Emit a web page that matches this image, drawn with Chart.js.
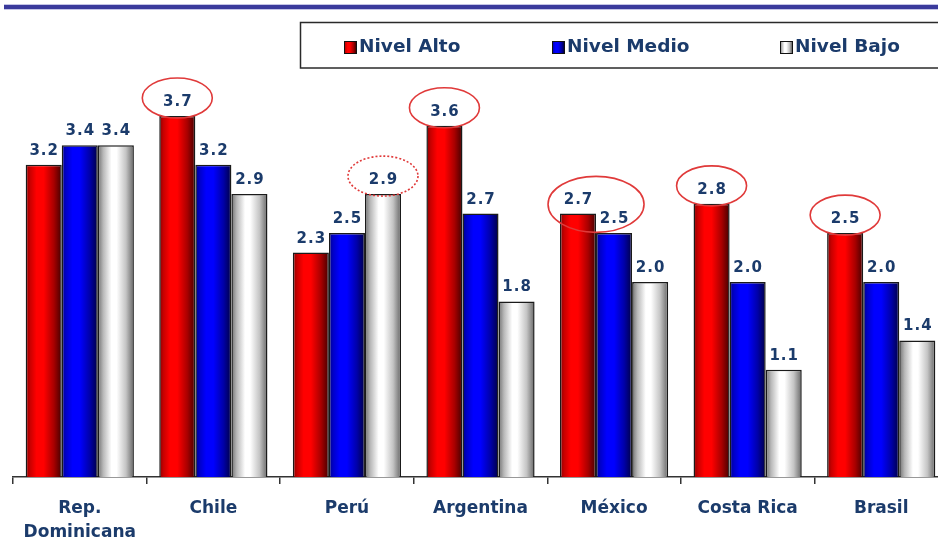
<!DOCTYPE html>
<html>
<head>
<meta charset="utf-8">
<script src="https://cdn.jsdelivr.net/npm/chart.js"></script>
<style>
  html, body { margin: 0; padding: 0; background: #fff; overflow: hidden; }
  #wrap { position: relative; width: 948px; height: 540px; }
</style>
</head>
<body>
<div id="wrap"><canvas id="nivelesChart"></canvas></div>
<script>
// Datos por país
const paises = [['Rep.', 'Dominicana'], 'Chile', 'Perú', 'Argentina', 'México', 'Costa Rica', 'Brasil'];
const series = ['Nivel Alto', 'Nivel Medio', 'Nivel Bajo'];
const nivelAlto = [3.2, 3.7, 2.3, 3.6, 2.7, 2.8, 2.5];
const nivelMedio = [3.4, 3.2, 2.5, 2.7, 2.5, 2.0, 2.0];
const nivelBajo = [3.4, 2.9, 2.9, 1.8, 2.0, 1.1, 1.4];
// valores resaltados con un óvalo: [serie, país]
const destacados = [[0, 1], [2, 2], [0, 3], [0, 4], [0, 5], [0, 6]];

const CAT_PCT = 0.81;
const AZUL_TEXTO = '#1b3b6b';

// degradados tipo cilindro para cada serie
const degradados = [
  [[0, '#8a0000'], [0.12, '#c80000'], [0.3, '#ff0000'], [0.5, '#ff0000'], [0.78, '#a80000'], [1, '#450000']],
  [[0, '#00008a'], [0.12, '#0000c8'], [0.3, '#0000ff'], [0.5, '#0000ff'], [0.78, '#0000a8'], [1, '#000045']],
  [[0, '#707070'], [0.15, '#b8b8b8'], [0.38, '#ffffff'], [0.52, '#ffffff'], [0.78, '#c4c4c4'], [1, '#666666']]
];
const solidos = ['#ff0000', '#0000ff', '#e0e0e0'];

function crearDegradado(ctx, left, width, stops) {
  const g = ctx.createLinearGradient(left, 0, left + width, 0);
  stops.forEach(s => g.addColorStop(s[0], s[1]));
  return g;
}

function rellenoBarra(serie) {
  return function (c) {
    const chart = c.chart;
    const x = chart.scales.x;
    if (!chart.chartArea || !x || c.type !== 'data') return solidos[serie];
    const catW = x.width / paises.length;
    const grupo = catW * CAT_PCT;
    const barW = grupo / series.length;
    const left = x.getPixelForValue(c.dataIndex) - grupo / 2 + serie * barW;
    return crearDegradado(chart.ctx, left, barW, degradados[serie]);
  };
}

// línea superior y leyenda en caja
const leyenda = {
  id: 'leyenda',
  afterDraw(chart) {
    const ctx = chart.ctx;
    ctx.save();
    ctx.fillStyle = '#c4c4e6';
    ctx.fillRect(4, 4, chart.width, 6);
    ctx.fillStyle = '#3a3a9c';
    ctx.fillRect(4, 5, chart.width, 4);

    ctx.strokeStyle = '#2a2a2a';
    ctx.lineWidth = 1.5;
    ctx.strokeRect(300.5, 22.5, chart.width, 45.5);

    const xs = [344, 552, 780];
    ctx.font = 'bold 18.5px "DejaVu Sans"';
    ctx.textBaseline = 'middle';
    chart.data.datasets.forEach((ds, i) => {
      ctx.fillStyle = crearDegradado(ctx, xs[i], 12, degradados[i]);
      ctx.fillRect(xs[i], 41, 12, 12);
      ctx.lineWidth = 1;
      ctx.strokeStyle = '#111';
      ctx.strokeRect(xs[i] + 0.5, 41.5, 12, 12);
      ctx.fillStyle = AZUL_TEXTO;
      ctx.fillText(ds.label, xs[i] + 15, 47);
    });
    ctx.restore();
  }
};

// valores encima de cada barra y óvalos de resaltado
const etiquetas = {
  id: 'etiquetas',
  afterDatasetsDraw(chart) {
    const ctx = chart.ctx;
    ctx.save();
    ctx.font = 'bold 15px "DejaVu Sans"';
    ctx.letterSpacing = '1px';
    ctx.fillStyle = AZUL_TEXTO;
    ctx.textAlign = 'center';
    ctx.textBaseline = 'alphabetic';
    chart.data.datasets.forEach((ds, i) => {
      chart.getDatasetMeta(i).data.forEach((bar, j) => {
        ctx.fillText(ds.data[j].toFixed(1), bar.x + 0.5, bar.y - 10);
      });
    });

    ctx.strokeStyle = '#e03a3a';
    ctx.lineWidth = 1.6;
    destacados.forEach(([s, p]) => {
      const bar = chart.getDatasetMeta(s).data[p];
      let cx = bar.x, cy = bar.y - 18, rx = 35, ry = 20;
      // si la etiqueta vecina queda a la misma altura, el óvalo abarca las dos
      const vecina = chart.getDatasetMeta(s + 1);
      if (vecina && vecina.data[p] && Math.abs(vecina.data[p].y - bar.y) < 25) {
        const b2 = vecina.data[p];
        cx = (bar.x + b2.x) / 2;
        cy = (bar.y + b2.y) / 2 - 19;
        rx = 48; ry = 28;
      }
      ctx.setLineDash(s === 2 ? [2, 2] : []);
      ctx.beginPath();
      ctx.ellipse(cx, cy, rx, ry, 0, 0, Math.PI * 2);
      ctx.stroke();
    });
    ctx.restore();
  }
};

const valores = [nivelAlto, nivelMedio, nivelBajo];

new Chart(document.getElementById('nivelesChart'), {
  type: 'bar',
  data: {
    labels: paises,
    datasets: series.map((nombre, i) => ({
      label: nombre,
      data: valores[i],
      backgroundColor: rellenoBarra(i),
      borderColor: '#1a1a1a',
      borderWidth: 1.5,
      categoryPercentage: CAT_PCT,
      barPercentage: 1
    }))
  },
  options: {
    responsive: true,
    maintainAspectRatio: false,
    animation: false,
    events: [],
    layout: { padding: { top: 38, left: 13, right: 0, bottom: 0 } },
    plugins: {
      legend: { display: false },
      tooltip: { enabled: false }
    },
    scales: {
      x: {
        offset: true,
        grid: { offset: true, drawOnChartArea: false, drawTicks: true, tickLength: 7, tickColor: '#333', lineWidth: 1.5 },
        border: { display: true, color: '#333', width: 1.5 },
        ticks: {
          color: AZUL_TEXTO,
          font: { family: 'DejaVu Sans', size: 17, weight: 'bold', lineHeight: 1.4 },
          padding: 13,
          maxRotation: 0,
          autoSkip: false
        },
        afterFit(scale) { scale.height = 63; }
      },
      y: { display: false, min: 0, max: 4.5 }
    }
  },
  plugins: [leyenda, etiquetas]
});
</script>
</body>
</html>
